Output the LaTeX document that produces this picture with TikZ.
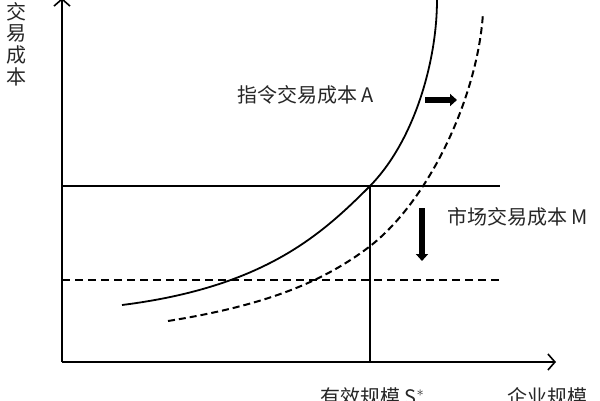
\documentclass[tikz,border=0pt]{standalone}
\usepackage{fontspec}
\setmainfont{Noto Sans CJK SC}
\usetikzlibrary{arrows.meta}
\begin{document}
\begin{tikzpicture}[x=1pt,y=-1pt,
  axis/.style={line width=1.6pt,-{Straight Barb[length=7pt,width=16pt,line width=1.6pt]}},
  guide/.style={line width=1.2pt},
  guidedash/.style={line width=1.2pt,dash pattern=on 8pt off 5pt},
  curveA/.style={line width=1.8pt},
  curveM/.style={line width=2pt,dash pattern=on 7pt off 4pt},
  movearrow/.style={line width=5.5pt,-{Triangle[length=7pt,width=12pt]}},
  lbl/.style={inner sep=0pt,text=black!85,font=\fontsize{20}{24}\selectfont}]
\useasboundingbox (0,0) rectangle (600,400);
\clip (0,0) rectangle (600,400);
% axes
\coordinate (O) at (62,362);
\coordinate (ytop) at (62,-2);
\coordinate (xend) at (556,362);
\draw[axis] (O) -- (ytop);
\draw[axis] (O) -- (xend);
% guide lines
\coordinate (hL) at (62,186);
\coordinate (hR) at (500,186);
\coordinate (S) at (370,186);
\coordinate (Sx) at (370,362);
\coordinate (dL) at (62,280);
\coordinate (dR) at (500,280);
\draw[guide] (hL) -- (hR);
\draw[guide] (S) -- (Sx);
\draw[guidedash] (dL) -- (dR);
% curves
\coordinate (a0) at (122,305);
\coordinate (a2) at (437,0);
\coordinate (m0) at (168,321);
\coordinate (m1) at (369,247);
\coordinate (m2) at (483,13);
\draw[curveA] (a0) .. controls (265,287) and (322,234) .. (S)
                   .. controls (415,140) and (437,60) .. (a2);
\draw[curveM] (m0) .. controls (268,305) and (324,281) .. (m1)
                   .. controls (430,200) and (478,95) .. (m2);
% shift arrows
\coordinate (ra1) at (425,100);
\coordinate (ra2) at (457,100);
\coordinate (da1) at (422,208);
\coordinate (da2) at (422,261);
\draw[movearrow] (ra1) -- (ra2);
\draw[movearrow] (da1) -- (da2);
% labels
\node[lbl,anchor=west] (lA) at (237,95) {指令交易成本 A};
\node[lbl,anchor=west] (lM) at (447,217) {市场交易成本 M};
\node[lbl,anchor=north,align=center,font=\fontsize{20}{21.7}\selectfont] (ly) at (16,2) {交\\易\\成\\本};
\node[lbl,anchor=north west] (ls) at (320,387) {有效规模 S$^{*}$};
\node[lbl,anchor=north west] (lx) at (507,387) {企业规模};
\end{tikzpicture}
\end{document}
